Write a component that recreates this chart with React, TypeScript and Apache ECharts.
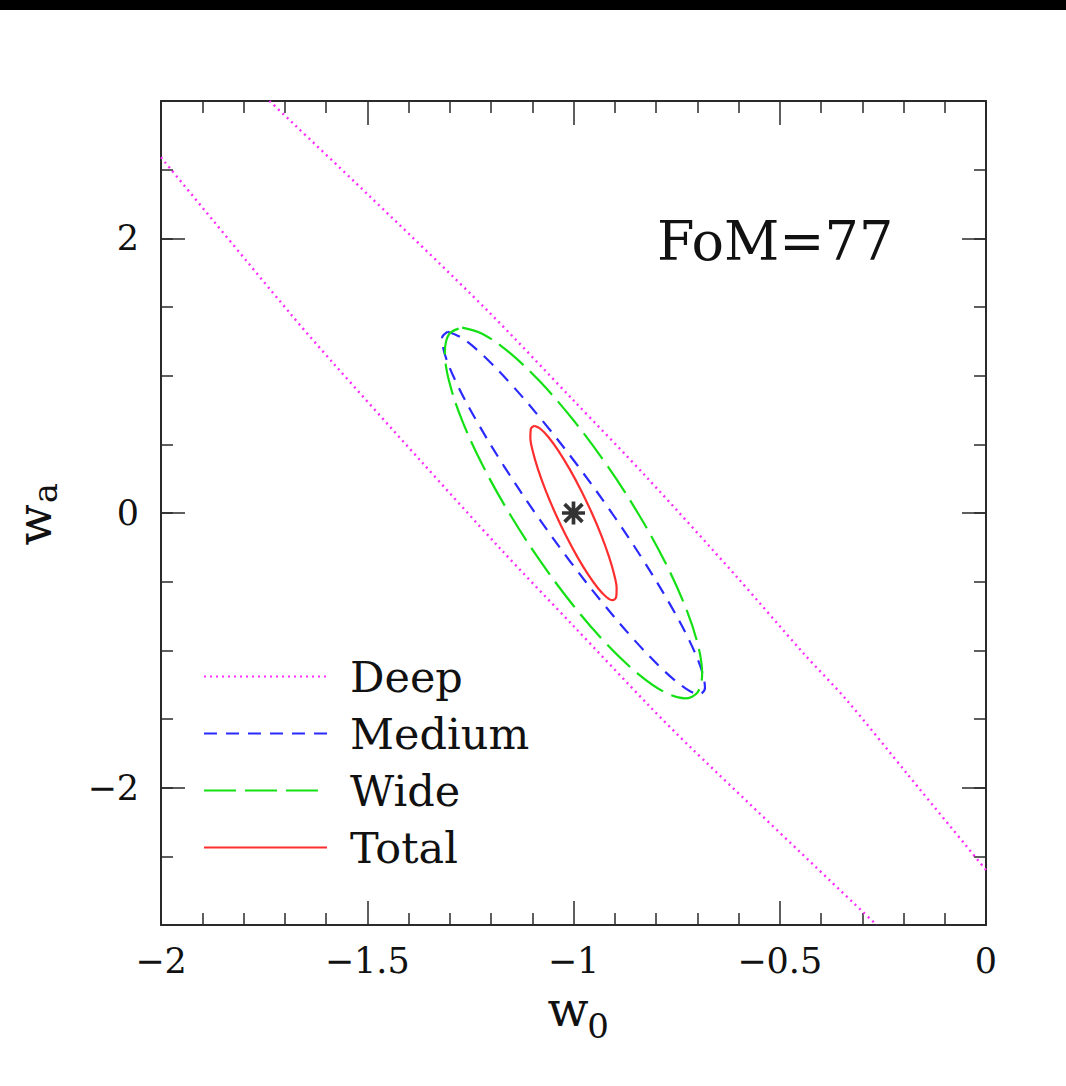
import React, { useEffect, useRef } from 'react';
import * as echarts from 'echarts';

// Tick values
const xMajorTicks = [-2, -1.5, -1, -0.5, 0];
const yLabelTicks = [-2, 0, 2];

// Deep survey contour (only two edges are visible inside the frame)
const deepLower: number[][] = [
  [-2.0, 2.59], [-1.688, 1.457], [-1.583, 1.093], [-1.373, 0.388], [-1.179, -0.255],
  [-1.0, -0.823], [-0.815, -1.409], [-0.714, -1.713], [-0.265, -3.0],
];
const deepUpper: number[][] = [
  [-1.737, 3.0], [-1.494, 2.306], [-1.211, 1.481], [-1.0, 0.82], [-0.821, 0.255],
  [-0.605, -0.462], [-0.443, -1.02], [-0.338, -1.361], [-0.189, -1.907], [0.0, -2.6],
];

// Medium survey contour
const mediumContour: number[][] = [
  [-1.305, 1.32], [-1.2705, 1.275], [-1.2176, 1.143], [-1.1499, 0.933], [-1.072, 0.66],
  [-0.9891, 0.342], [-0.907, 0], [-0.8313, -0.342], [-0.767, -0.66], [-0.7185, -0.933],
  [-0.6894, -1.143], [-0.6813, -1.275], [-0.695, -1.32], [-0.7295, -1.275], [-0.7824, -1.143],
  [-0.8501, -0.933], [-0.928, -0.66], [-1.0109, -0.342], [-1.093, 0], [-1.1687, 0.342],
  [-1.233, 0.66], [-1.2815, 0.933], [-1.3106, 1.143], [-1.3187, 1.275], [-1.305, 1.32],
];

// Wide survey contour
const wideContour: number[][] = [
  [-1.27, 1.35], [-1.2204, 1.304], [-1.1558, 1.169], [-1.0806, 0.955], [-1.0, 0.675],
  [-0.9192, 0.349], [-0.844, 0], [-0.7794, -0.349], [-0.7299, -0.675], [-0.6988, -0.955],
  [-0.6882, -1.169], [-0.6988, -1.304], [-0.73, -1.35], [-0.7796, -1.304], [-0.8442, -1.169],
  [-0.9194, -0.955], [-1.0, -0.675], [-1.0808, -0.349], [-1.156, 0], [-1.2206, 0.349],
  [-1.2701, 0.675], [-1.3012, 0.955], [-1.3118, 1.169], [-1.3012, 1.304], [-1.27, 1.35],
];

// Total (combined) contour
const totalContour: number[][] = [
  [-1.095, 0.635], [-1.0803, 0.6134], [-1.06, 0.5499], [-1.0357, 0.449], [-1.009, 0.3175],
  [-0.9816, 0.1643], [-0.9555, 0], [-0.9324, -0.1643], [-0.914, -0.3175], [-0.9013, -0.449],
  [-0.8954, -0.5499], [-0.8967, -0.6134], [-0.905, -0.635], [-0.9197, -0.6134], [-0.94, -0.5499],
  [-0.9643, -0.449], [-0.991, -0.3175], [-1.0184, -0.1643], [-1.0445, 0], [-1.0676, 0.1643],
  [-1.086, 0.3175], [-1.0987, 0.449], [-1.1046, 0.5499], [-1.1033, 0.6134], [-1.095, 0.635],
];

// Fiducial model
const fiducial: number[][] = [[-1, 0]];

const legendNames = ['Deep', 'Medium', 'Wide', 'Total'];
const fomText = 'FoM=77';

const FONT = 'DejaVu Serif';
const AXIS_COLOR = '#2a2a2a';
const TEXT_COLOR = '#111';
const STAR =
  'path://M0 8.4L20 8.4L20 11.6L0 11.6Z M8.4 0L11.6 0L11.6 20L8.4 20Z M3.4 1.1L18.9 16.6L16.6 18.9L1.1 3.4Z M16.6 1.1L18.9 3.4L3.4 18.9L1.1 16.6Z';

const fmt = (v: number) => (v === 0 ? '0' : String(v).replace('-', '\u2212'));

export default function App() {
  const ref = useRef<HTMLDivElement>(null);
  useEffect(() => {
    if (!ref.current) return;
    const chart = echarts.init(ref.current, null, { renderer: 'svg' });
    const tickLine = { color: AXIS_COLOR, width: 1.5 };
    const frameLine = { show: true, onZero: false, lineStyle: { color: AXIS_COLOR, width: 2 } };
    const labelStyle = { fontFamily: FONT, fontSize: 35, color: TEXT_COLOR };
    const xAxisBase = (position: string, showLabel: boolean) => ({
      type: 'value',
      position,
      min: -2,
      max: 0,
      interval: 0.5,
      axisLine: frameLine,
      axisTick: { show: true, inside: true, length: 24, lineStyle: tickLine },
      minorTick: { show: true, splitNumber: 5, length: 12, lineStyle: tickLine },
      axisLabel: { show: showLabel, margin: 18, formatter: fmt, ...labelStyle },
      splitLine: { show: false },
      minorSplitLine: { show: false },
    });
    const yMajor = (position: string, showLabel: boolean) => ({
      type: 'value',
      position,
      min: -3,
      max: 3,
      interval: 1,
      axisLine: frameLine,
      axisTick: { show: true, inside: true, length: 24, lineStyle: tickLine, customValues: yLabelTicks },
      axisLabel: { show: showLabel, margin: 22, formatter: fmt, customValues: yLabelTicks, ...labelStyle },
      splitLine: { show: false },
    });
    const yMinor = (position: string) => ({
      type: 'value',
      position,
      min: -3,
      max: 3,
      interval: 0.5,
      axisLine: { show: false, onZero: false },
      axisTick: { show: true, inside: true, length: 12, lineStyle: tickLine },
      axisLabel: { show: false },
      splitLine: { show: false },
    });
    const lineSeries = (name: string, data: number[][], color: string, type: any, width: number, smooth: number) => ({
      type: 'line',
      name,
      data,
      xAxisIndex: 0,
      yAxisIndex: 0,
      symbol: 'none',
      showSymbol: false,
      smooth,
      lineStyle: { color, type, width },
      itemStyle: { color },
      z: 3,
    });
    const MAGENTA = '#ff2bff';
    const BLUE = '#2a2aff';
    const GREEN = '#14e014';
    const RED = '#ff2e2e';
    chart.setOption({
      animation: false,
      backgroundColor: '#ffffff',
      grid: { left: 161, top: 101, right: 80, bottom: 161, containLabel: false },
      xAxis: [xAxisBase('bottom', true), xAxisBase('top', false)],
      yAxis: [yMajor('left', true), yMinor('left'), yMajor('right', false), yMinor('right')],
      legend: {
        data: legendNames,
        orient: 'vertical',
        left: 203,
        top: 655,
        padding: 0,
        itemWidth: 123,
        itemHeight: 20,
        itemGap: 14,
        selectedMode: false,
        itemStyle: { opacity: 0, color: 'transparent', borderWidth: 0 },
        textStyle: { fontFamily: FONT, fontSize: 43, color: TEXT_COLOR, lineHeight: 42, padding: [0, 0, 0, 18] },
      },
      series: [
        lineSeries('Deep', deepLower, MAGENTA, [2, 4], 2.4, 0.3),
        lineSeries('Deep', deepUpper, MAGENTA, [2, 4], 2.4, 0.3),
        lineSeries('Medium', mediumContour, BLUE, [13, 9], 2.2, 0.35),
        lineSeries('Wide', wideContour, GREEN, [32, 9], 2.2, 0.35),
        lineSeries('Total', totalContour, RED, 'solid', 2.2, 0.35),
        {
          type: 'scatter',
          name: 'fiducial',
          data: fiducial,
          xAxisIndex: 0,
          yAxisIndex: 0,
          symbol: STAR,
          symbolSize: 23,
          itemStyle: { color: '#000' },
          z: 5,
        },
      ],
      graphic: [
        { type: 'rect', shape: { x: 0, y: 0, width: 1066, height: 10 }, style: { fill: '#000' }, z: 10 },
        {
          type: 'text',
          x: 657,
          y: 241,
          style: { text: fomText, fontFamily: FONT, fontSize: 54, fill: TEXT_COLOR, textAlign: 'left', textVerticalAlign: 'middle' },
        },
        {
          type: 'text',
          x: 568,
          y: 1009,
          style: { text: 'w', fontFamily: FONT, fontSize: 48, fill: TEXT_COLOR, textAlign: 'center', textVerticalAlign: 'middle' },
        },
        {
          type: 'text',
          x: 598,
          y: 1026,
          style: { text: '0', fontFamily: FONT, fontSize: 34, fill: TEXT_COLOR, textAlign: 'center', textVerticalAlign: 'middle' },
        },
        {
          type: 'group',
          x: 38,
          y: 515,
          rotation: Math.PI / 2,
          children: [
            {
              type: 'text',
              x: -10,
              y: -4,
              style: { text: 'w', fontFamily: FONT, fontSize: 48, fill: TEXT_COLOR, textAlign: 'center', textVerticalAlign: 'middle' },
            },
            {
              type: 'text',
              x: 22,
              y: 7,
              style: { text: 'a', fontFamily: FONT, fontSize: 34, fill: TEXT_COLOR, textAlign: 'center', textVerticalAlign: 'middle' },
            },
          ],
        },
      ],
    });
    return () => chart.dispose();
  }, []);
  return <div ref={ref} style={{ position: 'absolute', left: 0, top: 0, width: 1066, height: 1086 }} />;
}
